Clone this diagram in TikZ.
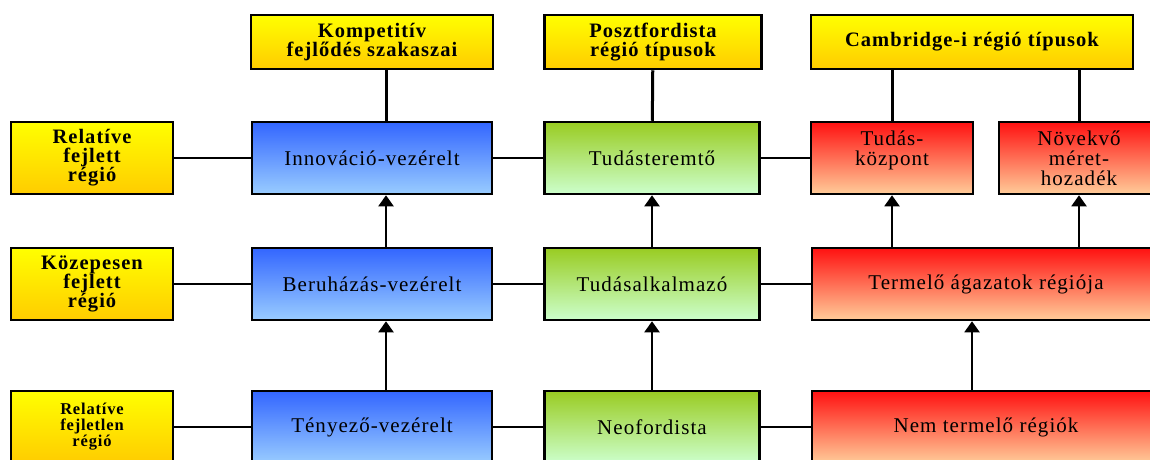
\documentclass[tikz,border=0pt]{standalone}
\usepackage{fontspec}
\setmainfont{Liberation Serif}[LetterSpace=5]
\usetikzlibrary{arrows.meta}
\definecolor{ylwtop}{HTML}{FFFF00}
\definecolor{ylwbot}{HTML}{FFCC00}
\definecolor{blutop}{HTML}{3366FF}
\definecolor{blubot}{HTML}{99CCFF}
\definecolor{grntop}{HTML}{99CC22}
\definecolor{grnbot}{HTML}{CCFFCC}
\definecolor{redtop}{HTML}{FF1111}
\definecolor{redbot}{HTML}{FFCC99}
\begin{document}
\begin{tikzpicture}[
  x=1pt, y=-1pt,
  box/.style={draw, line width=2.5pt, align=center, inner sep=0pt, minimum height=72pt},
  hdr/.style={box, top color=ylwtop, bottom color=ylwbot, font={\bfseries\fontsize{20.5}{19}\selectfont}},
  blu/.style={box, top color=blutop, bottom color=blubot, font={\fontsize{21}{20}\selectfont}},
  grn/.style={box, top color=grntop, bottom color=grnbot, font={\fontsize{21}{20}\selectfont}},
  rd/.style={box, top color=redtop, bottom color=redbot, font={\fontsize{21}{20}\selectfont}},
  link/.style={line width=2pt},
  uparr/.style={line width=2pt, -{Triangle[width=15pt,length=11pt]}}
]
  \useasboundingbox (0,0) rectangle (1150,459);
  \clip (0,0) rectangle (1150,459);

  % header row
  \node[hdr, minimum width=242pt, minimum height=54pt] (t1) at (372,42) {Kompetitív\\fejlődés szakaszai};
  \node[hdr, minimum width=217pt, minimum height=54pt] (t2) at (653,42) {Posztfordista\\régió típusok};
  \node[hdr, minimum width=322pt, minimum height=54pt] (t3) at (972,42) {Cambridge-i régió típusok};

  % left column
  \node[hdr, minimum width=162pt] (l1) at (92,158) {Relatíve\\fejlett\\régió};
  \node[hdr, minimum width=162pt] (l2) at (92,284) {Közepesen\\fejlett\\régió};
  \node[hdr, minimum width=162pt, font={\bfseries\fontsize{16.5}{16}\selectfont}] (l3) at (92,427) {Relatíve\\fejletlen\\régió};

  % blue column
  \node[blu, minimum width=240pt] (b1) at (372,158) {Innováció-vezérelt};
  \node[blu, minimum width=240pt] (b2) at (372,284) {Beruházás-vezérelt};
  \node[blu, minimum width=240pt] (b3) at (372,427) {Tényező-vezérelt};

  % green column
  \node[grn, minimum width=215pt] (g1) at (652,158) {Tudásteremtő};
  \node[grn, minimum width=215pt] (g2) at (652,284) {Tudásalkalmazó};
  \node[grn, minimum width=215pt] (g3) at (652,427) {Neofordista};

  % red column
  \node[rd, minimum width=162pt] (tk) at (892,158) {Tudás-\\központ\\\mbox{}};
  \node[rd, minimum width=160pt] (nm) at (1079,158) {Növekvő\\méret-\\hozadék};
  \node[rd, minimum width=348pt] (tr) at (986,284) {Termelő ágazatok régiója};
  \node[rd, minimum width=348pt] (nt) at (986,427) {Nem termelő régiók};

  \coordinate (kx) at (386,0);
  \coordinate (ax) at (972,0);

  % header links
  \draw[line width=3pt] (t1.south -| kx) -- (b1.north -| kx);
  \draw[line width=3pt] (t2) -- (g1);
  \draw[line width=3pt] (t3.south -| tk) -- (tk);
  \draw[line width=3pt] (t3.south -| nm) -- (nm);

  % row links
  \draw[link] (l1) -- (b1);
  \draw[link] (b1) -- (g1);
  \draw[link] (g1) -- (tk);
  \draw[link] (l2) -- (b2);
  \draw[link] (b2) -- (g2);
  \draw[link] (g2) -- (tr);
  \draw[link] (l3) -- (b3);
  \draw[link] (b3) -- (g3);
  \draw[link] (g3) -- (nt);

  % arrows
  \draw[uparr] (b3.north -| kx) -- (b2.south -| kx);
  \draw[uparr] (b2.north -| kx) -- (b1.south -| kx);
  \draw[uparr] (g3) -- (g2);
  \draw[uparr] (g2) -- (g1);
  \draw[uparr] (nt.north -| ax) -- (tr.south -| ax);
  \draw[uparr] (tr.north -| tk) -- (tk);
  \draw[uparr] (tr.north -| nm) -- (nm);
\end{tikzpicture}
\end{document}
